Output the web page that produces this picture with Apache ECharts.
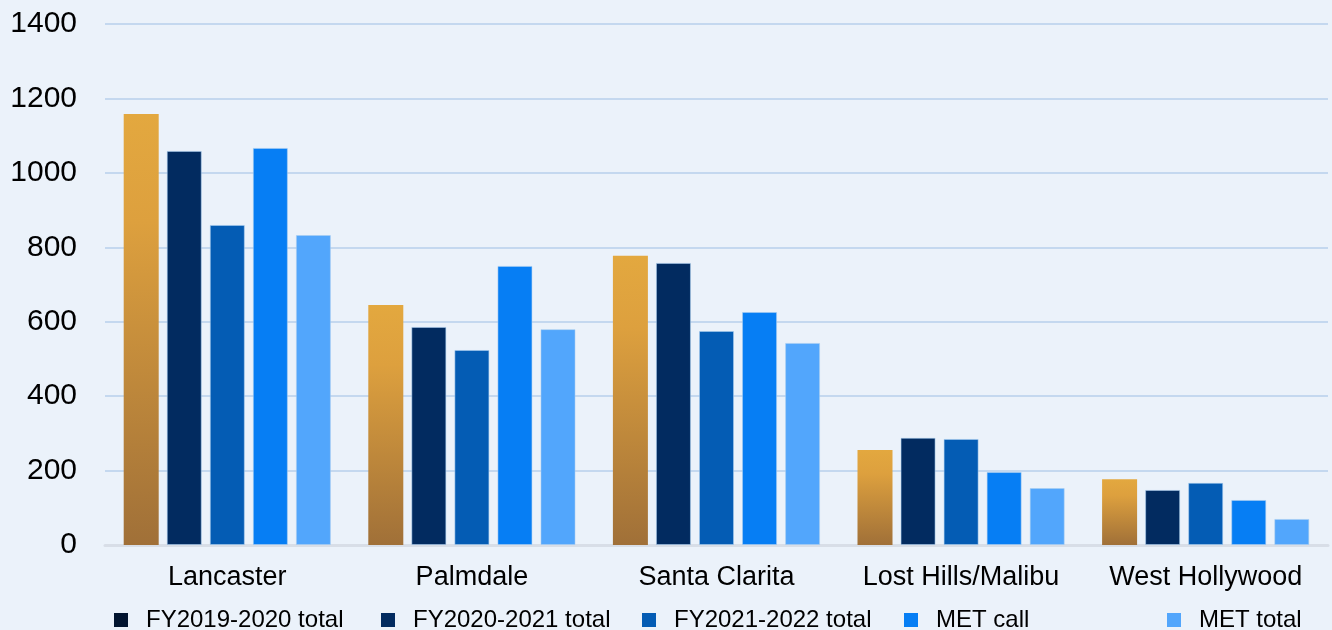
<!DOCTYPE html>
<html>
<head>
<meta charset="utf-8">
<script src="https://cdn.jsdelivr.net/npm/echarts@6/dist/echarts.min.js"></script>
<style>
	html, body { margin: 0; padding: 0; background: #EBF2FA; }
	#main { width: 1332px; height: 630px; }
</style>
</head>
<body>
<div id="main"></div>
<script>
// 类目（地区）
var stations = ['Lancaster', 'Palmdale', 'Santa Clarita', 'Lost Hills/Malibu', 'West Hollywood'];
// 各系列数值
var fy1920 = [1158, 645, 777, 255, 177];
var fy2021 = [1059, 586, 758, 288, 148];
var fy2122 = [860, 524, 575, 285, 167];
var metCall = [1067, 750, 626, 196, 121];
var metTotal = [833, 580, 543, 153, 70];
var seriesNames = ['FY2019-2020 total', 'FY2020-2021 total', 'FY2021-2022 total', 'MET call', 'MET total'];
var yTicks = [0, 200, 400, 600, 800, 1000, 1200, 1400];

var myChart = echarts.init(document.getElementById('main'));

var barColors = [
	new echarts.graphic.LinearGradient(0, 0, 0, 1, [
		{ offset: 0, color: '#E3A83F' },
		{ offset: 0.25, color: '#DDA03E' },
		{ offset: 1, color: '#A07038' }
	]),
	'#022B60',
	'#045CB4',
	'#067EF4',
	'#52A6FC'
];
// 图例颜色（第一项与柱子不同）
var legendColors = ['#021530', '#022B60', '#045CB4', '#067EF4', '#52A6FC'];
var legendLeft = [114, 381, 642, 904, 1167];

var allData = [fy1920, fy2021, fy2122, metCall, metTotal];

var legends = [];
for (var i = 0; i < seriesNames.length; i++) {
	legends.push({
		data: [{ name: seriesNames[i], itemStyle: { color: legendColors[i], borderWidth: 0 } }],
		left: legendLeft[i],
		top: 608,
		padding: 0,
		icon: 'rect',
		itemWidth: 14,
		itemHeight: 14,
		selectedMode: false,
		textStyle: {
			fontFamily: 'Liberation Sans, Arial, sans-serif',
			fontSize: 24,
			color: '#000',
			padding: [0, 0, 0, 13]
		}
	});
}

var series = [];
for (var j = 0; j < seriesNames.length; j++) {
	series.push({
		name: seriesNames[j],
		type: 'bar',
		data: allData[j],
		barWidth: 35,
		barGap: '23%',
		itemStyle: {
			color: barColors[j],
			borderColor: 'rgba(170,205,240,0.55)',
			borderWidth: j === 0 ? 0 : 1
		}
	});
}

var option = {
	backgroundColor: '#EBF2FA',
	animation: false,
	legend: legends,
	grid: {
		left: 105,
		right: 4,
		top: 24,
		bottom: 85
	},
	xAxis: {
		type: 'category',
		data: stations,
		axisLine: { show: true, lineStyle: { color: '#D8DEE7', width: 3 } },
		axisTick: { show: false },
		axisLabel: {
			interval: 0,
			fontFamily: 'Liberation Sans, Arial, sans-serif',
			fontSize: 27,
			color: '#000',
			margin: 19
		}
	},
	yAxis: {
		type: 'value',
		min: yTicks[0],
		max: yTicks[yTicks.length - 1],
		interval: 200,
		axisLine: { show: false },
		axisTick: { show: false },
		splitLine: { lineStyle: { color: '#C4D8EF', width: 2 } },
		axisLabel: {
			formatter: function(v) { return String(v); },
			fontFamily: 'Liberation Sans, Arial, sans-serif',
			fontSize: 30,
			color: '#000',
			margin: 28
		}
	},
	series: series
};

myChart.setOption(option);
</script>
</body>
</html>
